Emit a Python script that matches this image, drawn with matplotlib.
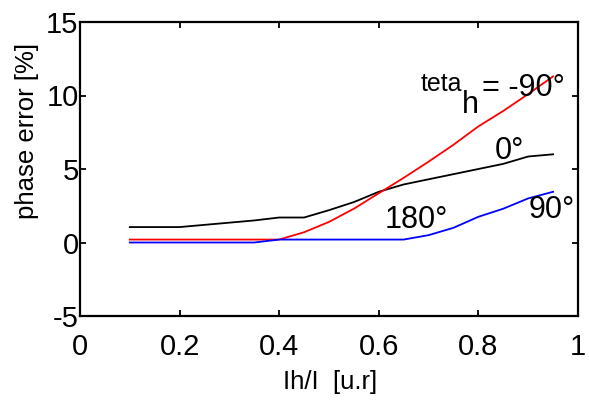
import numpy as np
import matplotlib
matplotlib.use("Agg")
import matplotlib.pyplot as plt

plt.rcParams['font.family'] = ['Liberation Sans', 'DejaVu Sans']
plt.rcParams['axes.unicode_minus'] = False

# Ih/I [u.r]
x = [0.10, 0.15, 0.20, 0.25, 0.30, 0.35, 0.40, 0.45, 0.50,
     0.55, 0.60, 0.65, 0.70, 0.75, 0.80, 0.85, 0.90, 0.95]

# phase error [%] for each teta_h
err_0 = [1.05, 1.05, 1.05, 1.2, 1.35, 1.5, 1.7, 1.7, 2.2,
         2.75, 3.45, 3.95, 4.3, 4.65, 5.0, 5.35, 5.85, 6.0]
err_m90 = [0.2, 0.2, 0.2, 0.2, 0.2, 0.2, 0.2, 0.7, 1.4,
           2.3, 3.35, 4.4, 5.5, 6.65, 7.9, 8.95, 10.1, 11.3]
err_90 = [0.0, 0.0, 0.0, 0.0, 0.0, 0.0, 0.2, 0.2, 0.2,
          0.2, 0.2, 0.2, 0.5, 1.0, 1.75, 2.3, 3.0, 3.45]

xticks = [0, 0.2, 0.4, 0.6, 0.8, 1]
xticklabels = ['0', '0.2', '0.4', '0.6', '0.8', '1']
yticks = [-5, 0, 5, 10, 15]

fig = plt.figure(figsize=(5.89, 4.01), dpi=100)
ax = fig.add_axes([80/589, 1 - 316/401, 498/589, 294/401])

ax.plot(x, err_0, color='black', lw=1.3)
ax.plot(x, err_m90, color='red', lw=1.3)
ax.plot(x, err_90, color='blue', lw=1.3)

ax.set_xlim(0, 1)
ax.set_ylim(-5, 15)
ax.set_xticks(xticks)
ax.set_xticklabels(xticklabels)
ax.set_yticks(yticks)
ax.tick_params(direction='in', length=4, width=1.3, labelsize=21,
               top=True, right=True)
ax.tick_params(axis='x', pad=12)
ax.tick_params(axis='y', pad=1)
for s in ax.spines.values():
    s.set_linewidth(1.6)

# annotations
ax.text(0.683, 10.34, 'teta', fontsize=18)
ax.text(0.767, 8.78, 'h', fontsize=22)
ax.text(0.807, 10.0, '= -90°', fontsize=22)
ax.text(0.833, 5.71, '0°', fontsize=22)
ax.text(0.900, 1.70, '90°', fontsize=22)
ax.text(0.612, 1.02, '180°', fontsize=22)

fig.text(27/589, 1 - 131/401, 'phase error [%]', rotation=90,
         ha='center', va='center', fontsize=18.5)
fig.text(330/589, 1 - 389/401, 'Ih/I  [u.r]', ha='center',
         va='baseline', fontsize=18.5)

fig.savefig('out.png', dpi=100)
